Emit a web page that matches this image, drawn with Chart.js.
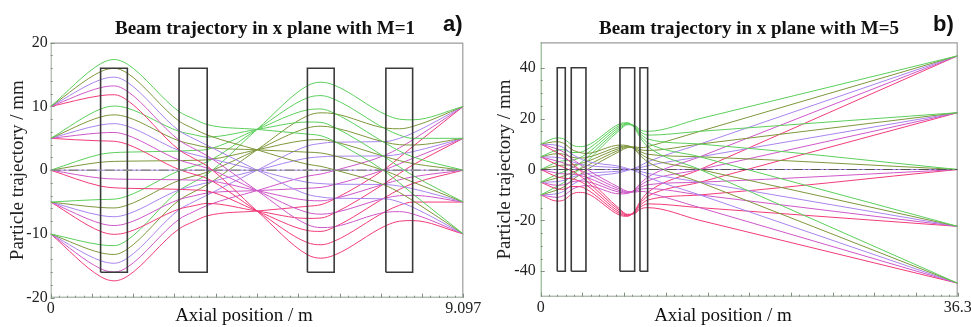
<!DOCTYPE html>
<html>
<head>
<meta charset="utf-8">
<script src="https://cdn.jsdelivr.net/npm/chart.js@4.4.1/dist/chart.umd.min.js"></script>
<style>
html,body{margin:0;padding:0;background:#fff;width:971px;height:327px;overflow:hidden;}
.pan{position:absolute;top:0;height:327px;}
#pa{left:0;width:485px;}
#pb{left:490px;width:481px;}
.t{position:absolute;white-space:nowrap;color:#111;line-height:19px;}
.ttl{font-family:'Liberation Serif',serif;font-weight:bold;font-size:19px;top:18px;transform:translateX(-50%);}
.xt{font-family:'Liberation Serif',serif;font-size:19px;top:305px;transform:translateX(-50%);}
.lab{font-family:'Liberation Sans',Arial,sans-serif;font-weight:bold;font-size:22px;line-height:22px;top:13px;}
</style>
</head>
<body>
<div class="pan" id="pa"><canvas id="ca"></canvas></div>
<div class="pan" id="pb"><canvas id="cb"></canvas></div>
<div class="t ttl" style="left:265px;">Beam trajectory in x plane with M=1</div>
<div class="t ttl" style="left:749px;">Beam trajectory in x plane with M=5</div>
<div class="t lab" style="left:443px;">a)</div>
<div class="t lab" style="left:933px;">b)</div>
<div class="t xt" style="left:244px;">Axial position / m</div>
<div class="t xt" style="left:723px;">Axial position / m</div>
<script>
// ---------------- Panel a (M=1) ----------------
const xPosA = [0, 1.10, 1.40, 1.69, 2.83, 3.14, 3.45, 4.55, 5.66, 5.96, 6.25, 7.39, 7.69, 7.98, 9.097];
const quadStartA = [1.10, 2.83, 5.66, 7.39];
const quadEndA   = [1.69, 3.45, 6.25, 7.98];
const quadHalfA  = 16;
const yTicksA = [-20, -10, 0, 10, 20];
const xTicksA = [0, 0.9097, 1.8194, 2.7291, 3.6388, 4.5485, 5.4582, 6.3679, 7.2776, 8.1873, 9.097];
const xTickLabelsA = ['0', '9.097'];
// rows: green, olive, purple, magenta, pink
const aFrom10 = [
  [10, 16.7, 17.36, 16.64, 9.2, 8.1, 7.16, 6.4, 5.66, 5.4, 4.54, -0.3, -2.0, -3.7, -10],
  [10, 15.45, 15.98, 15.22, 7.7, 6.55, 5.53, 3.2, 0.93, 0.6, 0.07, -2.4, -3.5, -4.75, -10],
  [10, 14.2, 14.6, 13.8, 6.2, 5.0, 3.9, 0, -3.8, -4.2, -4.4, -4.5, -5.0, -5.8, -10],
  [10, 12.95, 13.22, 12.38, 4.7, 3.45, 2.27, -3.2, -8.53, -9.0, -8.87, -6.6, -6.5, -6.85, -10],
  [10, 11.7, 11.84, 10.96, 3.2, 1.9, 0.64, -6.4, -13.26, -13.8, -13.34, -8.7, -8.0, -7.9, -10]
];
const aFrom5 = [
  [5, 9.6, 10.06, 9.74, 6.1, 5.6, 5.21, 6.4, 7.56, 7.5, 6.74, 1.95, 0.5, -0.8, -5],
  [5, 8.35, 8.68, 8.32, 4.6, 4.05, 3.58, 3.2, 2.83, 2.7, 2.27, -0.15, -1.0, -1.85, -5],
  [5, 7.1, 7.3, 6.9, 3.1, 2.5, 1.95, 0, -1.9, -2.1, -2.2, -2.25, -2.5, -2.9, -5],
  [5, 5.85, 5.92, 5.48, 1.6, 0.95, 0.32, -3.2, -6.63, -6.9, -6.67, -4.35, -4.0, -3.95, -5],
  [5, 4.6, 4.54, 4.06, 0.1, -0.6, -1.31, -6.4, -11.36, -11.7, -11.14, -6.45, -5.5, -5.0, -5]
];
const aFrom0 = [
  [0, 2.5, 2.76, 2.84, 3.0, 3.1, 3.26, 6.4, 9.46, 9.6, 8.94, 4.2, 3.0, 2.1, 0],
  [0, 1.25, 1.38, 1.42, 1.5, 1.55, 1.63, 3.2, 4.73, 4.8, 4.47, 2.1, 1.5, 1.05, 0],
  [0, 0, 0, 0, 0, 0, 0, 0, 0, 0, 0, 0, 0, 0, 0],
  [0, -1.25, -1.38, -1.42, -1.5, -1.55, -1.63, -3.2, -4.73, -4.8, -4.47, -2.1, -1.5, -1.05, 0],
  [0, -2.5, -2.76, -2.84, -3.0, -3.1, -3.26, -6.4, -9.46, -9.6, -8.94, -4.2, -3.0, -2.1, 0]
];
const aFromM5 = [
  [-5, -4.6, -4.54, -4.06, -0.1, 0.6, 1.31, 6.4, 11.36, 11.7, 11.14, 6.45, 5.5, 5.0, 5],
  [-5, -5.85, -5.92, -5.48, -1.6, -0.95, -0.32, 3.2, 6.63, 6.9, 6.67, 4.35, 4.0, 3.95, 5],
  [-5, -7.1, -7.3, -6.9, -3.1, -2.5, -1.95, 0, 1.9, 2.1, 2.2, 2.25, 2.5, 2.9, 5],
  [-5, -8.35, -8.68, -8.32, -4.6, -4.05, -3.58, -3.2, -2.83, -2.7, -2.27, 0.15, 1.0, 1.85, 5],
  [-5, -9.6, -10.06, -9.74, -6.1, -5.6, -5.21, -6.4, -7.56, -7.5, -6.74, -1.95, -0.5, 0.8, 5]
];
const aFromM10 = [
  [-10, -11.7, -11.84, -10.96, -3.2, -1.9, -0.64, 6.4, 13.26, 13.8, 13.34, 8.7, 8.0, 7.9, 10],
  [-10, -12.95, -13.22, -12.38, -4.7, -3.45, -2.27, 3.2, 8.53, 9.0, 8.87, 6.6, 6.5, 6.85, 10],
  [-10, -14.2, -14.6, -13.8, -6.2, -5.0, -3.9, 0, 3.8, 4.2, 4.4, 4.5, 5.0, 5.8, 10],
  [-10, -15.45, -15.98, -15.22, -7.7, -6.55, -5.53, -3.2, -0.93, -0.6, -0.07, 2.4, 3.5, 4.75, 10],
  [-10, -16.7, -17.36, -16.64, -9.2, -8.1, -7.16, -6.4, -5.66, -5.4, -4.54, 0.3, 2.0, 3.7, 10]
];

// ---------------- Panel b (M=5) ----------------
const xPosB = [0, 1.44, 1.79, 2.14, 2.66, 3.30, 3.94, 6.90, 7.54, 8.18, 8.64, 8.97, 9.31, 13.86, 36.3];
const quadStartB = [1.44, 2.66, 6.90, 8.64];
const quadEndB   = [2.14, 3.94, 8.18, 9.31];
const quadHalfB  = 40;
const yTicksB = [-40, -20, 0, 20, 40];
const xTicksB = [0, 3.63, 7.26, 10.89, 14.52, 18.15, 21.78, 25.41, 29.04, 32.67, 36.3];
const xTickLabelsB = ['0', '36.3'];
const bFrom10 = [
  [10, 12.4, 12.3, 11.7, 9.8, 9.0, 9.3, 18.0, 18.4, 16.3, 12.7, 10.7, 9.0, 0, -44.7],
  [10, 10.95, 10.65, 9.95, 8.0, 6.8, 6.3, 9.6, 9.4, 7.9, 5.6, 4.25, 3.0, -5, -44.7],
  [10, 9.5, 9.0, 8.2, 6.2, 4.6, 3.3, 1.2, 0.4, -0.5, -1.5, -2.2, -3.0, -10, -44.7],
  [10, 8.05, 7.35, 6.45, 4.4, 2.4, 0.3, -7.2, -8.6, -8.9, -8.6, -8.65, -9.0, -15, -44.7],
  [10, 6.6, 5.7, 4.7, 2.6, 0.2, -2.7, -15.6, -17.6, -17.3, -15.7, -15.1, -15.0, -20, -44.7]
];
const bFrom5 = [
  [5, 7.65, 7.8, 7.6, 6.7, 6.7, 7.65, 17.4, 18.2, 16.55, 13.45, 11.8, 10.5, 5, -22.35],
  [5, 6.2, 6.15, 5.85, 4.9, 4.5, 4.65, 9.0, 9.2, 8.15, 6.35, 5.35, 4.5, 0, -22.35],
  [5, 4.75, 4.5, 4.1, 3.1, 2.3, 1.65, 0.6, 0.2, -0.25, -0.75, -1.1, -1.5, -5, -22.35],
  [5, 3.3, 2.85, 2.35, 1.3, 0.1, -1.35, -7.8, -8.8, -8.65, -7.85, -7.55, -7.5, -10, -22.35],
  [5, 1.85, 1.2, 0.6, -0.5, -2.1, -4.35, -16.2, -17.8, -17.05, -14.95, -14.0, -13.5, -15, -22.35]
];
const bFrom0 = [
  [0, 2.9, 3.3, 3.5, 3.6, 4.4, 6.0, 16.8, 18.0, 16.8, 14.2, 12.9, 12.0, 10.0, 0],
  [0, 1.45, 1.65, 1.75, 1.8, 2.2, 3.0, 8.4, 9.0, 8.4, 7.1, 6.45, 6.0, 5.0, 0],
  [0, 0, 0, 0, 0, 0, 0, 0, 0, 0, 0, 0, 0, 0, 0],
  [0, -1.45, -1.65, -1.75, -1.8, -2.2, -3.0, -8.4, -9.0, -8.4, -7.1, -6.45, -6.0, -5.0, 0],
  [0, -2.9, -3.3, -3.5, -3.6, -4.4, -6.0, -16.8, -18.0, -16.8, -14.2, -12.9, -12.0, -10.0, 0]
];
const bFromM5 = [
  [-5, -1.85, -1.2, -0.6, 0.5, 2.1, 4.35, 16.2, 17.8, 17.05, 14.95, 14.0, 13.5, 15, 22.35],
  [-5, -3.3, -2.85, -2.35, -1.3, -0.1, 1.35, 7.8, 8.8, 8.65, 7.85, 7.55, 7.5, 10, 22.35],
  [-5, -4.75, -4.5, -4.1, -3.1, -2.3, -1.65, -0.6, -0.2, 0.25, 0.75, 1.1, 1.5, 5, 22.35],
  [-5, -6.2, -6.15, -5.85, -4.9, -4.5, -4.65, -9.0, -9.2, -8.15, -6.35, -5.35, -4.5, 0, 22.35],
  [-5, -7.65, -7.8, -7.6, -6.7, -6.7, -7.65, -17.4, -18.2, -16.55, -13.45, -11.8, -10.5, -5, 22.35]
];
const bFromM10 = [
  [-10, -6.6, -5.7, -4.7, -2.6, -0.2, 2.7, 15.6, 17.6, 17.3, 15.7, 15.1, 15.0, 20, 44.7],
  [-10, -8.05, -7.35, -6.45, -4.4, -2.4, -0.3, 7.2, 8.6, 8.9, 8.6, 8.65, 9.0, 15, 44.7],
  [-10, -9.5, -9.0, -8.2, -6.2, -4.6, -3.3, -1.2, -0.4, 0.5, 1.5, 2.2, 3.0, 10, 44.7],
  [-10, -10.95, -10.65, -9.95, -8.0, -6.8, -6.3, -9.6, -9.4, -7.9, -5.6, -4.25, -3.0, 5, 44.7],
  [-10, -12.4, -12.3, -11.7, -9.8, -9.0, -9.3, -18.0, -18.4, -16.3, -12.7, -10.7, -9.0, 0, 44.7]
];

const rayColors = ['#5ccf5c', '#7f973c', '#a985ee', '#cf58c9', '#f23c7a'];

function rayDatasets(X, sources) {
  const ds = [];
  sources.forEach(src => src.forEach((ys, k) => {
    ds.push({
      data: ys.map((y, i) => ({x: X[i], y: y})),
      borderColor: rayColors[k], borderWidth: 1, pointRadius: 0,
      cubicInterpolationMode: 'monotone', fill: false
    });
  }));
  return ds;
}
function quadDatasets(starts, ends, h) {
  return starts.map((s, i) => ({
    data: [{x: s, y: -h}, {x: s, y: h}, {x: ends[i], y: h}, {x: ends[i], y: -h}, {x: s, y: -h}],
    borderColor: '#3a3a3a', borderWidth: 1.6, pointRadius: 0, tension: 0, fill: false
  }));
}
function axisDataset(xmax, color, w) {
  return {data: [{x: 0, y: 0}, {x: xmax, y: 0}], borderColor: color, borderWidth: w,
          borderDash: [10, 3, 2, 3], pointRadius: 0, tension: 0, fill: false};
}

const framePlugin = {
  id: 'frame',
  beforeDatasetsDraw(chart, args, o) {
    const {ctx, chartArea: a} = chart;
    const xs = chart.scales.x, ys = chart.scales.y;
    ctx.save();
    ctx.lineWidth = 1.2;
    ctx.strokeStyle = o.boxColor;
    ctx.beginPath();
    ctx.moveTo(a.left, a.top + 0.5); ctx.lineTo(a.right, a.top + 0.5);
    ctx.moveTo(a.right - 0.5, a.top); ctx.lineTo(a.right - 0.5, a.bottom);
    ctx.stroke();
    ctx.lineWidth = 1;
    ctx.strokeStyle = o.leftColor;
    ctx.beginPath();
    ctx.moveTo(a.left + 0.5, a.top); ctx.lineTo(a.left + 0.5, a.bottom);
    ctx.stroke();
    ctx.strokeStyle = o.bottomColor;
    ctx.beginPath();
    ctx.moveTo(a.left, a.bottom - 0.5); ctx.lineTo(a.right, a.bottom - 0.5);
    ctx.stroke();
    ctx.strokeStyle = o.tickColor;
    ctx.beginPath();
    const xt = xs.ticks.map(t => t.value);
    xt.forEach(v => { const p = Math.round(xs.getPixelForValue(v)) + 0.5; ctx.moveTo(p, a.bottom); ctx.lineTo(p, a.bottom - 4); });
    for (let i = 0; i < xt.length - 1; i++) for (let j = 1; j < 5; j++) {
      const p = Math.round(xs.getPixelForValue(xt[i] + (xt[i + 1] - xt[i]) * j / 5)) + 0.5;
      ctx.moveTo(p, a.bottom); ctx.lineTo(p, a.bottom - 2);
    }
    const yt = ys.ticks.map(t => t.value);
    yt.forEach(v => { const p = Math.round(ys.getPixelForValue(v)) + 0.5; ctx.moveTo(a.left, p); ctx.lineTo(a.left + 4, p); });
    for (let i = 0; i < yt.length - 1; i++) for (let j = 1; j < o.yMinor; j++) {
      const p = Math.round(ys.getPixelForValue(yt[i] + (yt[i + 1] - yt[i]) * j / o.yMinor)) + 0.5;
      ctx.moveTo(a.left, p); ctx.lineTo(a.left + 2, p);
    }
    ctx.stroke();
    ctx.restore();
  }
};

function makeChart(canvasId, p) {
  const datasets = [axisDataset(p.xmax, p.axisColor, p.axisWidth)]
    .concat(quadDatasets(p.qs, p.qe, p.qh))
    .concat(rayDatasets(p.X, p.sources));
  return new Chart(document.getElementById(canvasId), {
    type: 'line',
    data: {datasets: datasets},
    plugins: [framePlugin],
    options: {
      responsive: true, maintainAspectRatio: false, animation: false, devicePixelRatio: 1,
      layout: {padding: {top: p.top, right: p.right, left: 0, bottom: 0}},
      plugins: {
        legend: {display: false}, tooltip: {enabled: false},
        frame: {boxColor: '#9c9c9c', leftColor: p.leftColor, bottomColor: '#8f9f8f', tickColor: '#7f907f', yMinor: p.yMinor}
      },
      scales: {
        x: {
          type: 'linear', min: 0, max: p.xmax,
          grid: {display: false, drawTicks: false}, border: {display: false},
          afterBuildTicks: s => { s.ticks = p.xTicks.map(v => ({value: v})); },
          afterFit: s => { s.height = p.xh; s.paddingLeft = 0; s.paddingRight = 0; },
          ticks: {
            autoSkip: false, maxRotation: 0, minRotation: 0, padding: 1, color: '#222',
            font: {family: 'Liberation Serif', size: 16},
            callback: (v, i, arr) => i === 0 ? p.xLabels[0] : (i === arr.length - 1 ? p.xLabels[1] : '')
          }
        },
        y: {
          type: 'linear', min: p.ymin, max: p.ymax,
          grid: {display: false, drawTicks: false}, border: {display: false},
          afterBuildTicks: s => { s.ticks = p.yTicks.map(v => ({value: v})); },
          afterFit: s => { s.width = 50.7; },
          ticks: {padding: p.ypad, color: '#222', font: {family: 'Liberation Serif', size: 16}},
          title: {display: true, text: 'Particle trajectory / mm', color: '#222',
                  font: {family: 'Liberation Serif', size: 19}, padding: {top: p.ytitlePad, bottom: 0}}
        }
      }
    }
  });
}

makeChart('ca', {
  X: xPosA, sources: [aFrom10, aFrom5, aFrom0, aFromM5, aFromM10],
  qs: quadStartA, qe: quadEndA, qh: quadHalfA, xmax: 9.097, ymin: -20, ymax: 20,
  yTicks: yTicksA, xTicks: xTicksA, xLabels: xTickLabelsA,
  top: 42.7, right: 21.7, xh: 29.3, ypad: 3, ytitlePad: 7, yMinor: 5,
  axisColor: '#8a8a8a', axisWidth: 1.6, leftColor: '#9aa89a'
});
makeChart('cb', {
  X: xPosB, sources: [bFrom10, bFrom5, bFrom0, bFromM5, bFromM10],
  qs: quadStartB, qe: quadEndB, qh: quadHalfB, xmax: 36.3, ymin: -50, ymax: 50,
  yTicks: yTicksB, xTicks: xTicksB, xLabels: xTickLabelsB,
  top: 42.3, right: 13.3, xh: 30.3, ypad: 5, ytitlePad: 4, yMinor: 4,
  axisColor: '#555555', axisWidth: 1.2, leftColor: '#7aaa7a'
});
</script>
</body>
</html>
